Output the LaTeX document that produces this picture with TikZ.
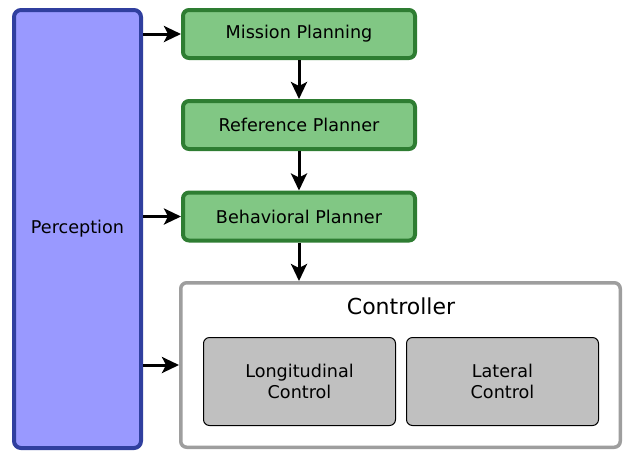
\documentclass[tikz,border=0pt]{standalone}
\usepackage{fontspec}
\setmainfont{DejaVu Sans}
\usetikzlibrary{arrows.meta}
\definecolor{percfill}{HTML}{9999FF}
\definecolor{percline}{HTML}{303F9F}
\definecolor{planfill}{HTML}{81C784}
\definecolor{planline}{HTML}{2E7D32}
\definecolor{ctrlline}{HTML}{9E9E9E}
\definecolor{subfill}{HTML}{C0C0C0}
\tikzset{
  txt/.style={font=\fontsize{17.6}{20.5}\selectfont, align=center},
  percbox/.style={txt, draw=percline, fill=percfill, line width=4pt, rounded corners=7pt,
    minimum width=127pt, minimum height=438pt, inner sep=0pt},
  planbox/.style={txt, draw=planline, fill=planfill, line width=4pt, rounded corners=6pt,
    minimum width=232pt, minimum height=48pt, inner sep=0pt},
  ctrlbox/.style={draw=ctrlline, fill=white, line width=3.5pt, rounded corners=6pt,
    minimum width=439.5pt, minimum height=164.5pt, inner sep=0pt},
  subbox/.style={txt, draw=black, fill=subfill, line width=1pt, rounded corners=6pt,
    minimum width=192pt, minimum height=88pt, inner sep=0pt},
  arr/.style={line width=3pt, -{Stealth[length=17pt,width=16pt,inset=4pt]}},
}
\begin{document}
\begin{tikzpicture}[x=1pt, y=-1pt]
  \useasboundingbox (0,0) rectangle (623,451);
  % perception column
  \node[percbox] (perc) at (77.5,229) {Perception};
  % planning stack
  \node[planbox] (mission) at (299,34) {Mission Planning};
  \node[planbox] (refplan) at (299,125) {Reference Planner};
  \node[planbox] (behav) at (299,216.5) {Behavioral Planner};
  % controller with its two parts
  \node[ctrlbox] (ctrl) at (400.5,365) {};
  \node[font=\fontsize{22}{26}\selectfont] (ctitle) at (401,306) {Controller};
  \node[subbox] (lon) at (299.5,381.5) {Longitudinal\\Control};
  \node[subbox] (lat) at (502.5,381.5) {Lateral\\Control};
  % connectors
  \draw[arr] (perc.east |- mission.west) -- (mission.west);
  \draw[arr] (perc.east |- behav.west) -- (behav.west);
  \draw[arr] (perc.east |- ctrl.west) -- (ctrl.west);
  \draw[arr] (mission) -- (refplan);
  \draw[arr] (refplan) -- (behav);
  \draw[arr] (behav.south) -- (behav.south |- ctrl.north);
\end{tikzpicture}
\end{document}
